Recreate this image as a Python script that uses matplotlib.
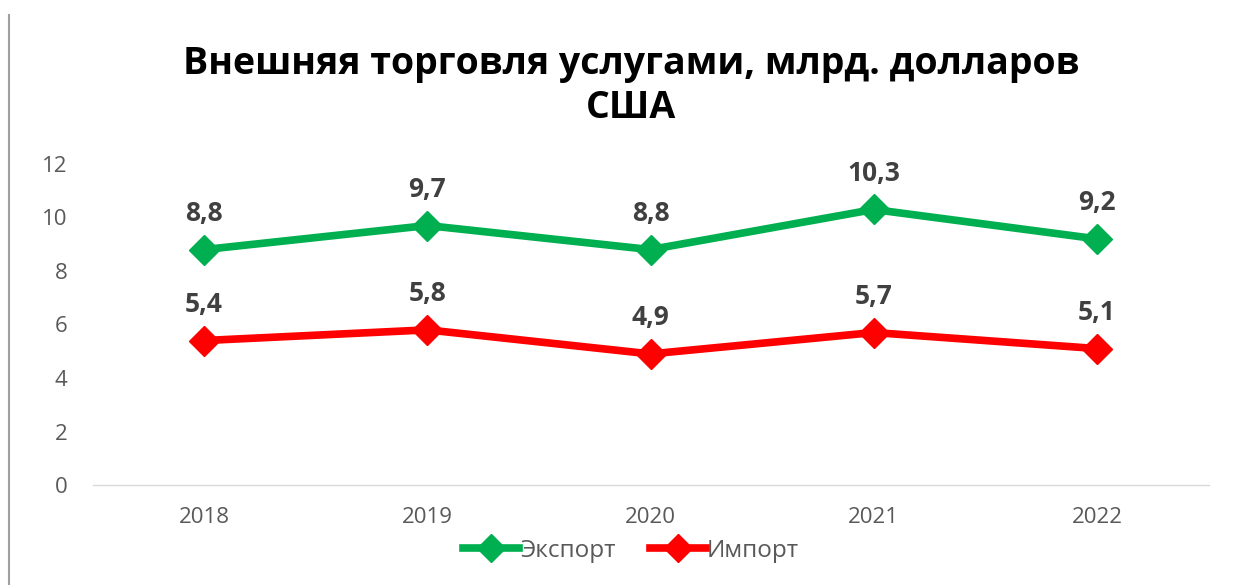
import matplotlib
matplotlib.use("Agg")
import matplotlib.pyplot as plt
from matplotlib.lines import Line2D

years = ["2018", "2019", "2020", "2021", "2022"]
export_vals = [8.8, 9.7, 8.8, 10.3, 9.2]
import_vals = [5.4, 5.8, 4.9, 5.7, 5.1]
series_names = ["Экспорт", "Импорт"]
title = "Внешняя торговля услугами, млрд. долларов\nСША"

plt.rcParams['font.family'] = ['Open Sans', 'DejaVu Sans']

fig = plt.figure(figsize=(12.44, 5.85), dpi=100)
ax = fig.add_axes([92.5/1244, 100/585, 1116/1244, 321/585])

x = list(range(len(years)))
green = "#00B050"
red = "#FF0000"
for vals, col, name in [(export_vals, green, series_names[0]), (import_vals, red, series_names[1])]:
    ax.plot(x, vals, color=col, lw=5.5, marker='D', markersize=15, label=name, solid_capstyle='round')
    for xi, v in zip(x, vals):
        ax.annotate(f"{v:.1f}".replace('.', ','), (xi, v), xytext=(0, 26), textcoords='offset points',
                    ha='center', va='center', fontsize=19, fontweight='bold', color='#404040')

ax.set_xlim(-0.5, len(years) - 0.5)
ax.set_ylim(0, 12)
ax.set_yticks([0, 2, 4, 6, 8, 10, 12])
ax.set_xticks(x)
ax.set_xticklabels(years)
for s in ['top', 'right', 'left']:
    ax.spines[s].set_visible(False)
ax.spines['bottom'].set_color('#D9D9D9')
ax.spines['bottom'].set_linewidth(1)
ax.tick_params(axis='both', length=0, labelsize=16, labelcolor='#595959')
ax.tick_params(axis='y', pad=18)
ax.tick_params(axis='x', pad=16)

fig.text(631/1244, 1 - 86/585, title, ha='center', va='center', fontsize=27, fontweight='bold',
         color='black', linespacing=1.2)

handles = [Line2D([0], [0], color=green, lw=5.5, marker='D', markersize=14),
           Line2D([0], [0], color=red, lw=5.5, marker='D', markersize=14)]
fig.legend(handles, series_names, loc='center', bbox_to_anchor=(631/1244, 1 - 551/585), ncol=2,
           frameon=False, fontsize=17.5, labelcolor='#595959', handlelength=2.3, handletextpad=0.05,
           columnspacing=1.4)

fig.add_artist(Line2D([9/1244, 9/1244], [0, 1 - 15/585], transform=fig.transFigure, color='#A0A0A0', lw=1.5))

fig.savefig("out.png", dpi=100, facecolor='white')
